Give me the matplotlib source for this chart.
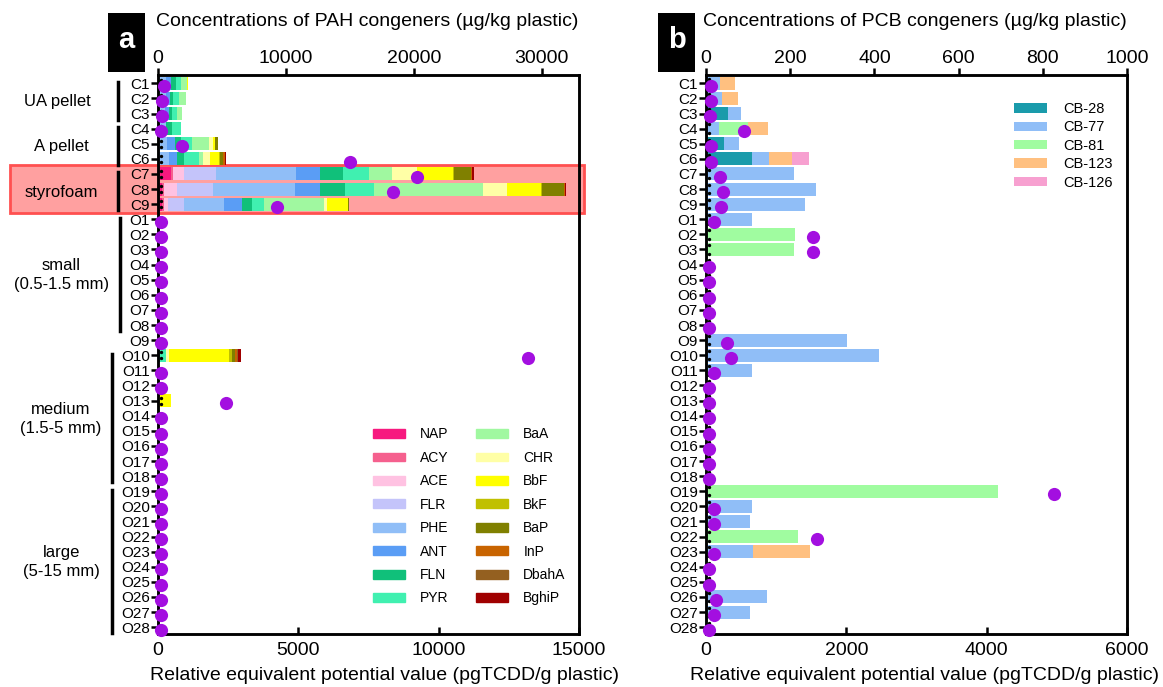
import matplotlib
matplotlib.use('Agg')
import matplotlib.pyplot as plt
from matplotlib.patches import Patch, Rectangle
from matplotlib.transforms import blended_transform_factory
import numpy as np

plt.rcParams['font.family'] = ['Liberation Sans', 'DejaVu Sans']

# ---- samples (rows) ----
samples = ['C%d' % i for i in range(1, 10)] + ['O%d' % i for i in range(1, 29)]

# ---- PAH concentrations (ug/kg plastic), only for samples that have bars ----
pah_samples = ['C1', 'C2', 'C3', 'C4', 'C5', 'C6', 'C7', 'C8', 'C9', 'O10', 'O13']
pah_names = ['NAP', 'ACY', 'ACE', 'FLR', 'PHE', 'ANT', 'FLN', 'PYR',
             'BaA', 'CHR', 'BbF', 'BkF', 'BaP', 'InP', 'DbahA', 'BghiP']
pah_colors = ['#f7197f', '#f5608e', '#ffc2e2', '#c4c4fa', '#90bef7', '#5a9df5',
              '#10c07a', '#40f0b0', '#a0f8a0', '#ffffa6', '#ffff00', '#c0c000',
              '#808000', '#c86400', '#946020', '#a00000']
NAP = [0, 0, 0, 0, 0, 0, 1000, 340, 340, 0, 0]
ACY = [0, 0, 0, 0, 0, 0, 180, 130, 130, 0, 0]
ACE = [0, 0, 0, 0, 0, 0, 860, 1050, 340, 0, 0]
FLR = [0, 0, 0, 0, 0, 0, 2490, 2800, 1230, 0, 0]
PHE = [600, 600, 550, 600, 730, 860, 6280, 6410, 3140, 0, 0]
ANT = [450, 310, 310, 0, 580, 600, 1830, 1910, 1390, 0, 0]
FLN = [340, 260, 260, 470, 470, 580, 1780, 1960, 760, 150, 0]
PYR = [390, 470, 390, 710, 840, 1130, 2090, 2280, 940, 450, 0]
BaA = [450, 520, 390, 0, 1340, 370, 1810, 8480, 4680, 0, 0]
CHR = [0, 0, 0, 0, 310, 550, 1910, 1880, 290, 260, 0]
BbF = [100, 0, 0, 0, 160, 650, 2830, 2720, 1570, 4710, 1000]
BkF = [0, 0, 0, 0, 50, 100, 100, 80, 50, 180, 0]
BaP = [0, 0, 0, 0, 180, 260, 1310, 1700, 50, 260, 0]
InP = [0, 0, 0, 0, 0, 100, 50, 50, 0, 130, 0]
DbahA = [0, 0, 0, 0, 0, 50, 50, 50, 0, 80, 0]
BghiP = [0, 0, 0, 0, 0, 50, 100, 80, 0, 240, 0]
pah_values = [NAP, ACY, ACE, FLR, PHE, ANT, FLN, PYR, BaA, CHR, BbF, BkF, BaP, InP, DbahA, BghiP]

# PAH relative equivalent potential (pgTCDD/g plastic), all 37 samples
pah_teq = [215, 130, 150, 100, 840, 6840, 9230, 8360, 4250,
           110, 110, 110, 110, 110, 110, 110, 110, 110,
           13200, 110, 110, 2440, 110, 110, 110, 110, 110,
           110, 110, 110, 110, 110, 110, 110, 110, 110, 110]

# ---- PCB concentrations (ug/kg plastic), all 37 samples ----
pcb_names = ['CB-28', 'CB-77', 'CB-81', 'CB-123', 'CB-126']
pcb_colors = ['#1a9bab', '#90bef7', '#a0fca0', '#ffc080', '#f7a0d0']
CB28 = [0, 0, 52, 0, 42, 109, 0, 0, 0] + [0] * 28
CB77 = [34, 38, 32, 32, 37, 41, 210, 262, 234,
        109, 0, 0, 0, 0, 0, 0, 0, 335, 412, 109, 0, 0, 0, 0, 0, 0, 0,
        0, 109, 105, 0, 111, 0, 0, 144, 105, 0]
CB81 = [0, 0, 0, 67, 0, 0, 0, 0, 0,
        0, 211, 210, 0, 0, 0, 0, 0, 0, 0, 0, 0, 0, 0, 0, 0, 0, 0,
        694, 0, 0, 218, 0, 0, 0, 0, 0, 0]
CB123 = [36, 37, 0, 49, 0, 54, 0, 0, 0,
         0, 0, 0, 0, 0, 0, 0, 0, 0, 0, 0, 0, 0, 0, 0, 0, 0, 0,
         0, 0, 0, 0, 135, 0, 0, 0, 0, 0]
CB126 = [0, 0, 0, 0, 0, 40, 0, 0, 0] + [0] * 28
pcb_values = [CB28, CB77, CB81, CB123, CB126]

# PCB relative equivalent potential (pgTCDD/g plastic)
pcb_teq = [71, 71, 61, 535, 71, 71, 203, 237, 218,
           118, 1530, 1530, 37, 37, 37, 37, 37, 298, 360, 118, 37, 37, 37, 37, 37, 37, 37,
           4960, 118, 118, 1580, 118, 37, 37, 147, 118, 37]

# group labels: (text, first sample, last sample, line x / label x in axes coords)
groups = [('UA pellet', 'C1', 'C3', -0.095, -0.24),
          ('A pellet', 'C4', 'C6', -0.095, -0.23),
          ('styrofoam', 'C7', 'C9', -0.095, -0.23),
          ('small\n(0.5-1.5 mm)', 'O1', 'O8', -0.090, -0.23),
          ('medium\n(1.5-5 mm)', 'O10', 'O18', -0.109, -0.23),
          ('large\n(5-15 mm)', 'O19', 'O28', -0.109, -0.23)]

dot_color = '#a30fe0'
y = np.arange(len(samples))
W, H = 1163, 687
xlabel = 'Relative equivalent potential value (pgTCDD/g plastic)'


def style_axes(ax, axd):
    for a in (ax, axd):
        for s in a.spines.values():
            s.set_linewidth(1.8)
    ax.xaxis.set_ticks_position('top')
    ax.tick_params(axis='x', direction='out', length=5, width=1.8, labelsize=14, pad=1)
    ax.tick_params(axis='y', direction='out', length=5, width=1.8, labelsize=11, pad=1)
    axd.xaxis.set_ticks_position('bottom')
    axd.tick_params(axis='x', direction='in', length=5, width=1.8, labelsize=14, pad=6)
    ax.set_yticks(y)
    ax.set_yticklabels(samples)
    ax.set_ylim(len(samples) - 0.55, -0.55)
    ax.set_facecolor('none')


fig = plt.figure(figsize=(W / 100, H / 100), dpi=100)

# ================= panel a =================
ax = fig.add_axes([158 / W, 1 - 634 / H, 421 / W, 559 / H])
axd = ax.twiny()
idx = [samples.index(s) for s in pah_samples]
left = np.zeros(len(pah_samples))
for name, vals, col in zip(pah_names, pah_values, pah_colors):
    ax.barh([y[i] for i in idx], vals, left=left, height=0.86, color=col, linewidth=0)
    left += np.array(vals)
ax.scatter([230] * len(pah_samples), [y[i] - 0.2 for i in idx], s=2, color='k', zorder=4)
ax.scatter([230] * len(pah_samples), [y[i] + 0.2 for i in idx], s=2, color='k', zorder=4)
ax.set_xlim(0, 32900)
ax.set_xticks([0, 10000, 20000, 30000])
axd.set_xlim(0, 15000)
axd.set_xticks([0, 5000, 10000, 15000])
axd.scatter(pah_teq, y + 0.18, s=90, color=dot_color, zorder=5, clip_on=False, linewidths=0)
style_axes(ax, axd)

ax.legend([Patch(color=c) for c in pah_colors], pah_names, ncol=2, loc='upper left',
          bbox_to_anchor=(0.48, 0.392), frameon=False, fontsize=10, handlelength=2.3,
          handleheight=0.6, labelspacing=0.68, columnspacing=2.0, handletextpad=1.1)

# styrofoam highlight box
tr = blended_transform_factory(fig.transFigure, ax.transData)
i7, i9 = samples.index('C7'), samples.index('C9')
fig.add_artist(Rectangle((10 / W, i7 - 0.6), 574 / W, i9 - i7 + 1.2, transform=tr,
                         facecolor='#ffa0a0', edgecolor='#ff5050', linewidth=2, zorder=-1))

tg = blended_transform_factory(ax.transAxes, ax.transData)
for text, first, last, lx, tx in groups:
    a0, a1 = samples.index(first), samples.index(last)
    ax.plot([lx, lx], [a0 - 0.1, a1 + 0.4], color='k', lw=2.5, transform=tg, clip_on=False)
    ax.text(tx, (a0 + a1) / 2 + 0.2, text, transform=tg, ha='center', va='center',
            fontsize=12, linespacing=1.3)

fig.text(156 / W, 1 - 22 / H, 'Concentrations of PAH congeners (µg/kg plastic)', fontsize=14,
         va='center', ha='left')
fig.text(384 / W, 1 - 676 / H, xlabel, fontsize=14, va='center', ha='center')
fig.add_artist(Rectangle((108 / W, 1 - 72 / H), 37 / W, 59 / H, transform=fig.transFigure,
                         facecolor='black', edgecolor='none'))
fig.text(126.5 / W, 1 - 40 / H, 'a', color='white', fontsize=21, fontweight='bold',
         ha='center', va='center')

# ================= panel b =================
bx = fig.add_axes([706 / W, 1 - 634 / H, 421 / W, 559 / H])
bxd = bx.twiny()
left = np.zeros(len(samples))
for name, vals, col in zip(pcb_names, pcb_values, pcb_colors):
    bx.barh(y, vals, left=left, height=0.86, color=col, linewidth=0, label=name)
    left += np.array(vals)
bx.scatter([6] * len(samples), y - 0.28, s=2, color='k', zorder=4)
bx.scatter([6] * len(samples), y + 0.28, s=2, color='k', zorder=4)
bx.set_xlim(0, 1000)
bx.set_xticks(range(0, 1001, 200))
bxd.set_xlim(0, 6000)
bxd.set_xticks([0, 2000, 4000, 6000])
bxd.scatter(pcb_teq, y + 0.18, s=90, color=dot_color, zorder=5, clip_on=False, linewidths=0)
style_axes(bx, bxd)
bx.legend(loc='upper left', bbox_to_anchor=(0.7, 0.975), frameon=False, fontsize=10.5,
          handlelength=2.3, handleheight=0.6, labelspacing=0.3, handletextpad=1.1)

fig.text(703 / W, 1 - 22 / H, 'Concentrations of PCB congeners (µg/kg plastic)', fontsize=14,
         va='center', ha='left')
fig.text(924 / W, 1 - 676 / H, xlabel, fontsize=14, va='center', ha='center')
fig.add_artist(Rectangle((658 / W, 1 - 72 / H), 37 / W, 59 / H, transform=fig.transFigure,
                         facecolor='black', edgecolor='none'))
fig.text(676.5 / W, 1 - 40 / H, 'b', color='white', fontsize=21, fontweight='bold',
         ha='center', va='center')

fig.savefig('out.png', dpi=100)
